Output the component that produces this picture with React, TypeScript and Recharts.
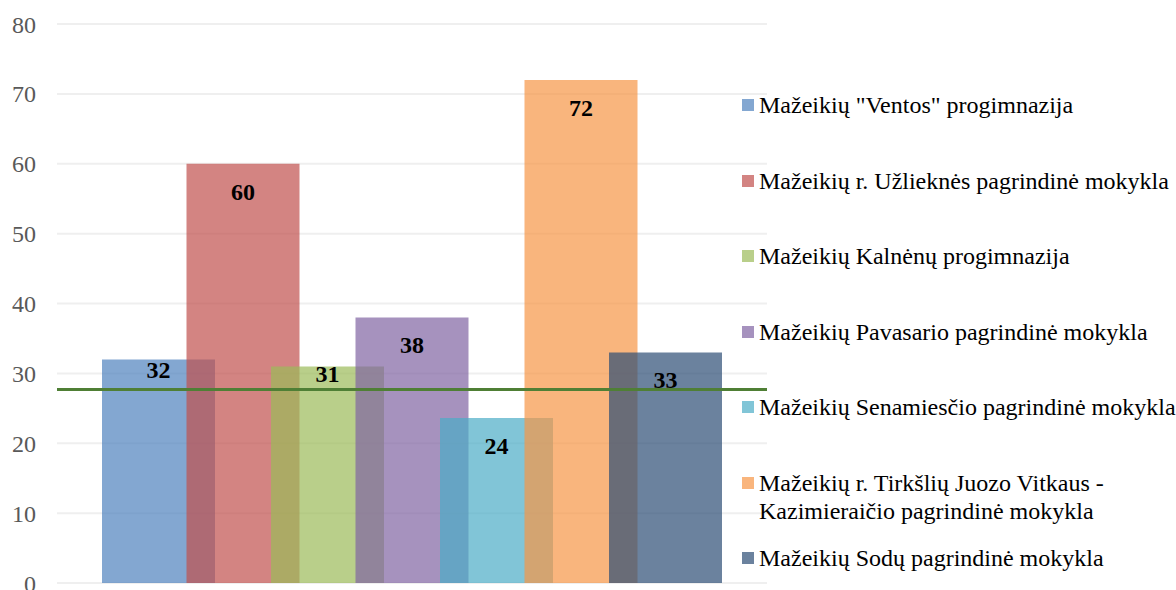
import React from 'react';
import {
  BarChart,
  Bar,
  XAxis,
  YAxis,
  CartesianGrid,
  ReferenceLine,
  LabelList
} from 'recharts';

const schools = [
  'Mažeikių "Ventos" progimnazija',
  'Mažeikių r. Užlieknės pagrindinė mokykla',
  'Mažeikių Kalnėnų progimnazija',
  'Mažeikių Pavasario pagrindinė mokykla',
  'Mažeikių Senamiesčio pagrindinė mokykla',
  'Mažeikių r. Tirkšlių Juozo Vitkaus - Kazimieraičio pagrindinė mokykla',
  'Mažeikių Sodų pagrindinė mokykla'
];
const scores = [32, 60, 31, 38, 23.6, 72, 33];
const colors = ['#4F81BD', '#C0504D', '#9BBB59', '#8064A2', '#4BACC6', '#F79646', '#2C4D75'];
const category = ['Mokyklos'];
const yTicks = [0, 10, 20, 30, 40, 50, 60, 70, 80];
const refLevel = 27.7;

const FONT = '"Liberation Serif", "Times New Roman", serif';

const data = category.map(name => {
  const row: Record<string, string | number> = { name };
  scores.forEach((v, i) => { row[`s${i}`] = v; });
  return row;
});

// value label inside the top of the bar, nudged up if it would sit on the green line
const ValueLabel = (props: any) => {
  const { x, y, width, height, value } = props;
  if (value == null || !height) return null;
  const pxPerUnit = height / value;
  const lineY = y + height - refLevel * pxPerUnit;
  let cy = y + 28;
  if (Math.abs(cy - lineY) < 7) cy = y + (lineY - y) * 0.35;
  return (
    <text
      x={x + width / 2}
      y={cy}
      textAnchor="middle"
      dominantBaseline="central"
      fontFamily={FONT}
      fontWeight="bold"
      fontSize={24}
      fill="#000"
    >
      {Math.round(value)}
    </text>
  );
};

const ChartLegend = () => (
  <div style={{ position: 'absolute', left: 742, top: 91, fontFamily: FONT, fontSize: 24, color: '#000' }}>
    {schools.map((s, i) => (
      <div key={s} style={{ height: 75.5, display: 'flex', alignItems: 'flex-start' }}>
        <div style={{ width: 12, height: 12, marginTop: 8, marginRight: 5, background: colors[i], opacity: 0.7, flexShrink: 0 }} />
        <div style={{ width: 425, lineHeight: '28px' }}>{s}</div>
      </div>
    ))}
  </div>
);

export default function App() {
  return (
    <div style={{ position: 'absolute', left: 0, top: 0, width: 1176, height: 590, overflow: 'hidden', background: '#fff' }}>
      <BarChart
        width={1176}
        height={590}
        data={data}
        margin={{ top: 24, right: 409, bottom: 7, left: 0 }}
        barSize={113}
        barGap={-28.5}
      >
        <CartesianGrid vertical={false} stroke="#efefef" strokeWidth={2} />
        <XAxis dataKey="name" hide />
        <YAxis
          width={57}
          domain={[0, 80]}
          ticks={yTicks}
          interval={0}
          axisLine={false}
          tickLine={false}
          tickMargin={15}
          tick={{ fill: '#595959', fontSize: 24, fontFamily: FONT }}
        />
        {schools.map((s, i) => (
          <Bar
            key={s}
            dataKey={`s${i}`}
            name={s}
            fill={colors[i]}
            fillOpacity={0.7}
            isAnimationActive={false}
          >
            <LabelList dataKey={`s${i}`} content={ValueLabel} />
          </Bar>
        ))}
        <ReferenceLine y={refLevel} stroke="#4f7f35" strokeWidth={3} />
      </BarChart>
      <ChartLegend />
    </div>
  );
}
